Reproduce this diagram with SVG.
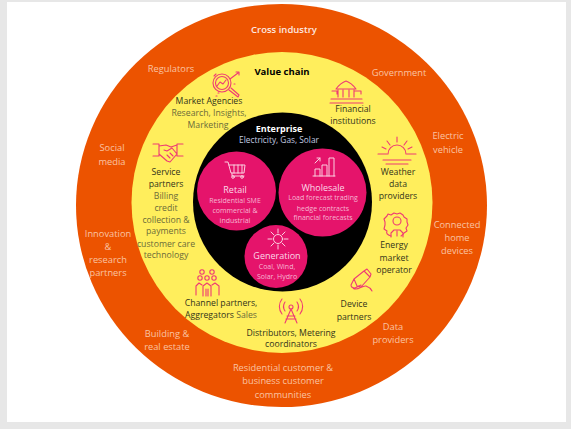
<svg xmlns="http://www.w3.org/2000/svg" width="571" height="429" viewBox="0 0 571 429">
<style>
text{font-family:"Open Sans","Noto Sans",sans-serif;text-anchor:middle}
.o{fill:#fac3a3;font-size:9.3px}
.y{fill:#33331a;font-size:8.7px}
.g{fill:#6b6b3a}
.w{fill:#f7b6d2;font-size:7px}
.t{fill:#fbd9e8;font-size:9px}
.ic{fill:none;stroke:#ee3a74;stroke-width:1.1;stroke-linecap:round;stroke-linejoin:round}
.iw{fill:none;stroke:#fbd0e0;stroke-width:1;stroke-linecap:round;stroke-linejoin:round}
</style>
<rect width="571" height="429" fill="#e7e7e7"/>
<rect x="7" y="2" width="559" height="420" fill="#fff"/>
<g id="cross-industry"><ellipse cx="281.500" cy="205.500" rx="205.500" ry="201.500" fill="#ec5300"/>
<text x="284" y="33" style="font-size:9.5px;font-weight:600" fill="#fde8e0">Cross industry</text>
<text class="o" x="171" y="72">Regulators</text>
<text class="o" x="399" y="76">Government</text>
<text class="o"><tspan x="448" y="139">Electric</tspan><tspan x="448" y="153">vehicle</tspan></text>
<text class="o"><tspan x="112" y="151">Social</tspan><tspan x="112" y="165">media</tspan></text>
<text class="o"><tspan x="457" y="228">Connected</tspan><tspan x="457" y="241">home</tspan><tspan x="457" y="254">devices</tspan></text>
<text class="o"><tspan x="108" y="237">Innovation</tspan><tspan x="108" y="250">&amp;</tspan><tspan x="108" y="263">research</tspan><tspan x="108" y="276">partners</tspan></text>
<text class="o"><tspan x="167" y="337">Building &amp;</tspan><tspan x="167" y="350">real estate</tspan></text>
<text class="o"><tspan x="393" y="330">Data</tspan><tspan x="393" y="343">providers</tspan></text>
<text class="o"><tspan x="283" y="371">Residential customer &amp;</tspan><tspan x="283" y="384">business customer</tspan><tspan x="283" y="398">communities</tspan></text>
</g>
<g id="value-chain"><circle cx="282" cy="202.500" r="150.500" fill="#ffee5c"/>
<text x="282" y="75" style="font-size:9.5px;font-weight:700" fill="#000">Value chain</text></g>
<g id="market-agencies">
<g class="ic"><circle cx="222" cy="83" r="9"/><circle cx="222" cy="83" r="6.500"/><path d="M217 86l3-4 3 2 3-4M229 90l9 7 1-2-8-7M230 79l8-6M236 72h3v3M214 76l2-2M218 93h1M216 96h1M234 84h1"/></g>
<text class="y"><tspan x="209" y="104">Market Agencies</tspan><tspan class="g" x="209" y="116">Research, Insights,</tspan><tspan class="g" x="208" y="128">Marketing</tspan></text></g>
<g id="financial-institutions">
<g class="ic"><path d="M336 89c3-4 7-7 10-8 3 1 7 4 10 8zM338 90v7M343 90v7M349 90v7M354 90v7M332 91h5v3M355 91h6v3M331 99h31M330 103h33"/></g>
<text class="y"><tspan x="353" y="112">Financial</tspan><tspan x="353" y="124">institutions</tspan></text></g>
<g id="service-partners">
<g class="ic"><path d="M153 144h6v12h-6M183 144h-6v12h6M159 146l7-1 5 2 6-2M159 154l8 7 3 1 7-8-5-6-5 3-3-1M167 155l3 3M170 153l3 3"/></g>
<text class="y"><tspan x="166" y="175">Service</tspan><tspan x="166" y="187">partners</tspan><tspan class="g" x="166" y="199">Billing</tspan><tspan class="g" x="166" y="211">credit</tspan><tspan class="g" x="166" y="223">collection &amp;</tspan><tspan class="g" x="166" y="234">payments</tspan><tspan class="g" x="166" y="247">customer care</tspan><tspan class="g" x="166" y="258">technology</tspan></text></g>
<g id="weather-providers">
<g class="ic"><path d="M378 154h9M407 154h9M383 160h28M386 164h22M388 154a9 9 0 0 1 18 0M397 137v5M387 141l3 4M407 141l-3 4M382 147l4 2M412 147l-4 2"/></g>
<text class="y"><tspan x="398" y="175">Weather</tspan><tspan x="398" y="187">data</tspan><tspan x="398" y="199">providers</tspan></text></g>
<g id="energy-operator">
<g class="ic"><path d="M391 236c-4-1-5-3-4-5l-3-2 1-4 0-3-1-3 3-3 1-2 3 1 3-2 3 1 3-1 3 2 1 2 3 2 0 3 1 3-2 3 1 3-3 2c-1 2-2 2-3 3"/><circle cx="397" cy="221" r="4"/><path d="M391 237v-4l3-3h6l3 3v4M397 231v5"/></g>
<text class="y"><tspan x="394" y="248">Energy</tspan><tspan x="394" y="261">market</tspan><tspan x="394" y="273">operator</tspan></text></g>
<g id="channel-partners">
<g class="ic"><circle cx="202" cy="272" r="2.200"/><circle cx="212" cy="272" r="2.200"/><circle cx="200" cy="278" r="2.200"/><circle cx="207" cy="278" r="2.200"/><circle cx="214" cy="278" r="2.200"/><path d="M196 295v-9l3-3 3 2M203 296v-10l4-3 4 3v10M212 285l3-2 4 3v9M206 296v-7M208 296v-7"/></g>
<text class="y"><tspan x="221" y="306">Channel partners,</tspan><tspan x="221" y="318">Aggregators <tspan class="g">Sales</tspan></tspan></text></g>
<g id="distributors">
<g class="ic"><circle cx="291" cy="307" r="2"/><path d="M291 309l-6 14M291 309l6 14M287 316h8M286 319h10M285 311a8 8 0 0 1 0-9M297 311a8 8 0 0 0 0-9M282 314a12 12 0 0 1 0-15M300 314a12 12 0 0 0 0-15"/></g>
<text class="y"><tspan x="291" y="336">Distributors, Metering</tspan><tspan x="291" y="347">coordinators</tspan></text></g>
<g id="device-partners">
<g class="ic"><path d="M354 279l10-8 6 6-9 10-4-1zM364 271l3-2 4 5-1 3M354 279l-3 6c0 2 2 3 4 3l6-3M353 288c4 4 9-3 13-2 3 1 5 3 6 5"/></g>
<text class="y"><tspan x="354" y="307">Device</tspan><tspan x="354" y="320">partners</tspan></text></g>
<g id="enterprise"><circle cx="282.500" cy="202" r="89.500" fill="#000"/>
<text x="279" y="132" style="font-size:9px;font-weight:700" fill="#fff">Enterprise</text>
<text x="279" y="143" style="font-size:8.300px" fill="#c3cbe0">Electricity, Gas, Solar</text></g>
<g id="retail"><circle cx="236.500" cy="191" r="39.500" fill="#e5146b"/>
<g class="iw"><path d="M225 162h3l3 11h13l1-8h-16M232 173v3h12M234 165v8M238 165v8M242 165v8"/><circle cx="233" cy="177" r="1.300"/><circle cx="242" cy="177" r="1.300"/></g>
<text class="t" x="235" y="193">Retail</text>
<text class="w"><tspan x="235" y="203">Residential SME</tspan><tspan x="235" y="213">commercial &amp;</tspan><tspan x="235" y="223">industrial</tspan></text></g>
<g id="wholesale"><circle cx="322.500" cy="192.500" r="44" fill="#e5146b"/>
<g class="iw"><path d="M313 176h22M315 176v-7h5v7M322 176v-11h5v11M329 176v-18h5v18M315 163l5-5M317 158h3v3"/></g>
<text class="t" x="323" y="191">Wholesale</text>
<text class="w"><tspan x="323" y="200">Load forecast trading</tspan><tspan x="323" y="211">hedge contracts</tspan><tspan x="323" y="220">financial forecasts</tspan></text></g>
<g id="generation"><circle cx="276" cy="256.500" r="31.500" fill="#e5146b"/>
<g class="iw"><circle cx="278" cy="239" r="4.500"/><path d="M278 229v4M278 245v4M268 239h4M284 239h4M271 232l3 3M282 243l3 3M285 232l-3 3M274 243l-3 3"/></g>
<text class="t" x="277" y="259">Generation</text>
<text class="w"><tspan x="277" y="269">Coal, Wind,</tspan><tspan x="277" y="279">Solar, Hydro</tspan></text></g>
</svg>
